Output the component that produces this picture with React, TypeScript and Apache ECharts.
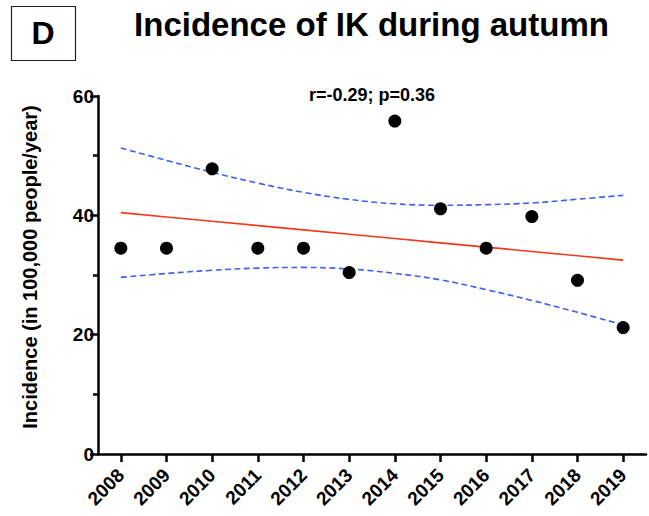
import React, { useEffect, useRef } from "react";
import * as echarts from "echarts";

const years = ["2008", "2009", "2010", "2011", "2012", "2013", "2014", "2015", "2016", "2017", "2018", "2019"];
const incidence = [34.5, 34.5, 47.8, 34.5, 34.5, 30.4, 55.8, 41.1, 34.5, 39.8, 29.1, 21.2];
const fitLine = [40.45, 39.73, 39.0, 38.28, 37.56, 36.84, 36.11, 35.39, 34.67, 33.95, 33.22, 32.5];
const upperCI = [51.3, 49.21, 47.21, 45.4, 43.85, 42.67, 41.94, 41.68, 41.79, 42.07, 42.7, 43.35];
const lowerCI = [29.6, 30.25, 30.79, 31.16, 31.27, 31.01, 30.28, 29.18, 27.55, 25.74, 23.74, 21.65];
const yTicks = [0, 20, 40, 60];

const FONT = "'Liberation Sans', Arial, Helvetica, sans-serif";

export default function App() {
  const ref = useRef<HTMLDivElement>(null);
  useEffect(() => {
    if (!ref.current) return;
    const chart = echarts.init(ref.current, undefined, { renderer: "svg" });
    chart.setOption({
      animation: false,
      backgroundColor: "#ffffff",
      textStyle: { fontFamily: FONT },
      graphic: [
        {
          type: "rect",
          shape: { x: 11.5, y: 6.5, width: 64, height: 54 },
          style: { fill: "#fff", stroke: "#222", lineWidth: 1.2 },
        },
        {
          type: "text",
          x: 43,
          y: 33,
          style: {
            text: "D",
            font: `bold 32px ${FONT}`,
            fill: "#000",
            textAlign: "center",
            textVerticalAlign: "middle",
          },
        },
        {
          type: "text",
          x: 371.5,
          y: 24,
          style: {
            text: "Incidence of IK during autumn",
            font: `bold 33px ${FONT}`,
            fill: "#000",
            textAlign: "center",
            textVerticalAlign: "middle",
          },
        },
        {
          type: "text",
          x: 372,
          y: 95,
          style: {
            text: "r=-0.29; p=0.36",
            font: `bold 18px ${FONT}`,
            fill: "#000",
            textAlign: "center",
            textVerticalAlign: "middle",
          },
        },
      ],
      grid: { left: 98, right: 3, top: 96, bottom: 62, containLabel: false },
      xAxis: {
        type: "category",
        data: years,
        boundaryGap: true,
        axisLine: { show: true, lineStyle: { color: "#000", width: 2.5 } },
        axisTick: { show: true, alignWithLabel: true, length: 8, lineStyle: { color: "#000", width: 2.5 } },
        axisLabel: {
          rotate: 45,
          color: "#000",
          fontWeight: "bold",
          fontSize: 19,
          fontFamily: FONT,
          margin: 18,
        },
        splitLine: { show: false },
      },
      yAxis: {
        type: "value",
        min: yTicks[0],
        max: yTicks[yTicks.length - 1],
        interval: 20,
        name: "Incidence (in 100,000 people/year)",
        nameLocation: "middle",
        nameGap: 58,
        nameTextStyle: {
          color: "#000",
          fontWeight: "bold",
          fontSize: 20,
          fontFamily: FONT,
          padding: [0, 0, 0, 16],
        },
        axisLine: { show: true, lineStyle: { color: "#000", width: 2.5 } },
        axisTick: { show: true, length: 8, lineStyle: { color: "#000", width: 2.5 } },
        minorTick: { show: true, splitNumber: 2, length: 5, lineStyle: { color: "#000", width: 2.5 } },
        axisLabel: { color: "#000", fontWeight: "bold", fontSize: 19, fontFamily: FONT, margin: 4 },
        splitLine: { show: false },
      },
      series: [
        {
          type: "line",
          data: upperCI,
          smooth: 0.4,
          symbol: "none",
          lineStyle: { color: "#3f5ff0", width: 1.6, type: [6, 3.5] },
          z: 2,
        },
        {
          type: "line",
          data: lowerCI,
          smooth: 0.4,
          symbol: "none",
          lineStyle: { color: "#3f5ff0", width: 1.6, type: [6, 3.5] },
          z: 2,
        },
        {
          type: "line",
          data: fitLine,
          symbol: "none",
          lineStyle: { color: "#ec3a1c", width: 1.6 },
          z: 3,
        },
        {
          type: "scatter",
          data: incidence,
          symbol: "circle",
          symbolSize: 13,
          itemStyle: { color: "#000", opacity: 1 },
          z: 4,
        },
      ],
    });
    return () => chart.dispose();
  }, []);
  return (
    <div
      ref={ref}
      style={{ position: "absolute", left: 0, top: 0, width: 649, height: 516 }}
    />
  );
}
